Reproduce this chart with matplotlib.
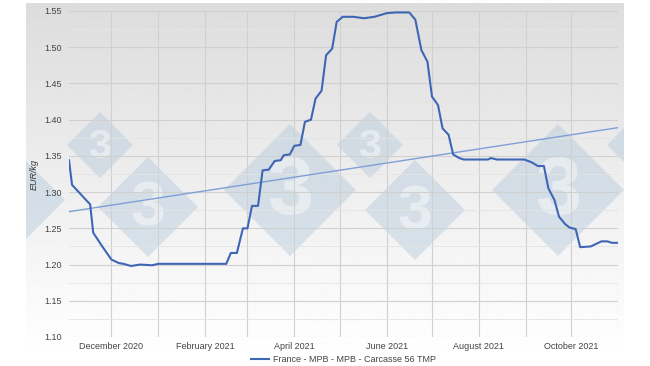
import numpy as np
import pandas as pd
import matplotlib
matplotlib.use("Agg")
import matplotlib.pyplot as plt
import matplotlib.dates as mdates
from matplotlib.patches import Polygon

plt.rcParams['font.family'] = ['Liberation Sans', 'DejaVu Sans']

# precio cerdo Francia (MPB), EUR/kg
fechas = ["2020-11-03", "2020-11-05", "2020-11-17", "2020-11-19", "2020-11-25",
          "2020-12-01", "2020-12-06", "2020-12-09", "2020-12-14", "2020-12-20",
          "2020-12-28", "2021-01-01", "2021-02-15", "2021-02-18", "2021-02-22",
          "2021-02-26", "2021-03-01", "2021-03-04", "2021-03-08", "2021-03-11",
          "2021-03-15", "2021-03-19", "2021-03-23", "2021-03-25", "2021-03-29",
          "2021-04-01", "2021-04-05", "2021-04-08", "2021-04-12", "2021-04-15",
          "2021-04-19", "2021-04-22", "2021-04-26", "2021-04-29", "2021-05-03",
          "2021-05-10", "2021-05-17", "2021-05-24", "2021-06-01", "2021-06-07",
          "2021-06-16", "2021-06-20", "2021-06-24", "2021-06-28", "2021-07-01",
          "2021-07-05", "2021-07-08", "2021-07-12", "2021-07-15", "2021-07-19",
          "2021-07-22", "2021-08-07", "2021-08-09", "2021-08-13", "2021-08-31",
          "2021-09-05", "2021-09-09", "2021-09-13", "2021-09-16", "2021-09-20",
          "2021-09-23", "2021-09-27", "2021-09-30", "2021-10-04", "2021-10-07",
          "2021-10-14", "2021-10-17", "2021-10-21", "2021-10-25", "2021-10-28",
          "2021-11-01"]
precios = [1.344, 1.310, 1.283, 1.244, 1.225,
           1.207, 1.202, 1.201, 1.198, 1.200,
           1.199, 1.201, 1.201, 1.216, 1.216,
           1.250, 1.250, 1.281, 1.281, 1.330,
           1.331, 1.343, 1.344, 1.351, 1.352,
           1.364, 1.365, 1.397, 1.400, 1.429,
           1.440, 1.489, 1.498, 1.535, 1.542,
           1.542, 1.540, 1.542, 1.547, 1.548,
           1.548, 1.538, 1.496, 1.480, 1.432,
           1.420, 1.388, 1.379, 1.352, 1.347,
           1.345, 1.345, 1.347, 1.345, 1.345,
           1.341, 1.336, 1.336, 1.305, 1.289,
           1.266, 1.256, 1.251, 1.249, 1.224,
           1.225, 1.228, 1.232, 1.232, 1.230,
           1.230]
# linea de tendencia (inicio y fin)
tendencia = [1.273, 1.389]
serie = "France - MPB - MPB - Carcasse 56 TMP"

fechas = pd.to_datetime(fechas)

fig = plt.figure(figsize=(6.5, 3.66), dpi=100)

# fondo gris degradado
bg = fig.add_axes([26/650, 1 - 356/366, (624-26)/650, (356-3)/366], zorder=0)
grad = np.linspace(0.865, 1.0, 256).reshape(-1, 1)
bg.imshow(grad, aspect='auto', cmap='gray', vmin=0, vmax=1,
          extent=[0, 1, 0, 1], origin='upper')
bg.axis('off')

ax = fig.add_axes([69/650, 1 - 337/366, (618-69)/650, (337-11)/366], zorder=1)
ax.patch.set_alpha(0)

# marcas de agua (rombos con "3")
wm = fig.add_axes([26/650, 1 - 356/366, (624-26)/650, (356-3)/366], zorder=0.5)
wm.set_xlim(26, 624)
wm.set_ylim(356, 3)
wm.axis('off')
for cx, cy, r in [(100, 145, 33), (148, 207, 50), (290, 190, 66), (370, 145, 33),
                  (415, 210, 50), (558, 190, 66), (640, 145, 33), (10, 200, 55)]:
    wm.add_patch(Polygon([(cx, cy - r), (cx + r, cy), (cx, cy + r), (cx - r, cy)],
                         closed=True, facecolor='#b4c9dc', alpha=0.45, lw=0,
                         joinstyle='round'))
    if 40 < cx < 610:
        wm.text(cx, cy + r * 0.05, "3", ha='center', va='center', color='white',
                alpha=0.45, fontsize=r * 0.9, fontweight='bold')

ax.plot(fechas, precios, color='#3f66b5', lw=1.5, zorder=3, label=serie)
ax.plot([fechas[0], fechas[-1]], tendencia, color='#7f9fd6', lw=1.0, zorder=2)

ax.set_xlim(pd.Timestamp("2020-11-03"), pd.Timestamp("2021-11-01"))
ax.set_ylim(1.10, 1.55)
ax.set_yticks(np.arange(1.10, 1.551, 0.05))
ax.set_yticks(np.arange(1.125, 1.55, 0.05), minor=True)
ax.yaxis.set_major_formatter(plt.FormatStrFormatter('%.2f'))

ax.xaxis.set_major_locator(mdates.MonthLocator(bymonth=[12, 2, 4, 6, 8, 10]))
ax.xaxis.set_minor_locator(mdates.MonthLocator())
ax.xaxis.set_major_formatter(mdates.DateFormatter('%B %Y'))

ax.grid(True, which='major', color='#d0d0d0', lw=0.8)
ax.grid(True, which='minor', axis='x', color='#d0d0d0', lw=0.8)
ax.grid(True, which='minor', axis='y', color='#e4e4e4', lw=0.6)
ax.tick_params(which='both', length=0, labelsize=6.5, colors='#444444', pad=5)
ax.tick_params(axis='x', pad=3.5)
for s in ax.spines.values():
    s.set_visible(False)

ax.set_ylabel('EUR/kg', fontsize=6.5, style='italic', color='#333333', labelpad=4)

ax.legend(loc='upper center', bbox_to_anchor=(0.5, -0.04), frameon=False,
          fontsize=6.5, handlelength=2.0, handletextpad=0.4, labelcolor='#444444',
          borderpad=0.1)

fig.savefig('out.png', dpi=100)
